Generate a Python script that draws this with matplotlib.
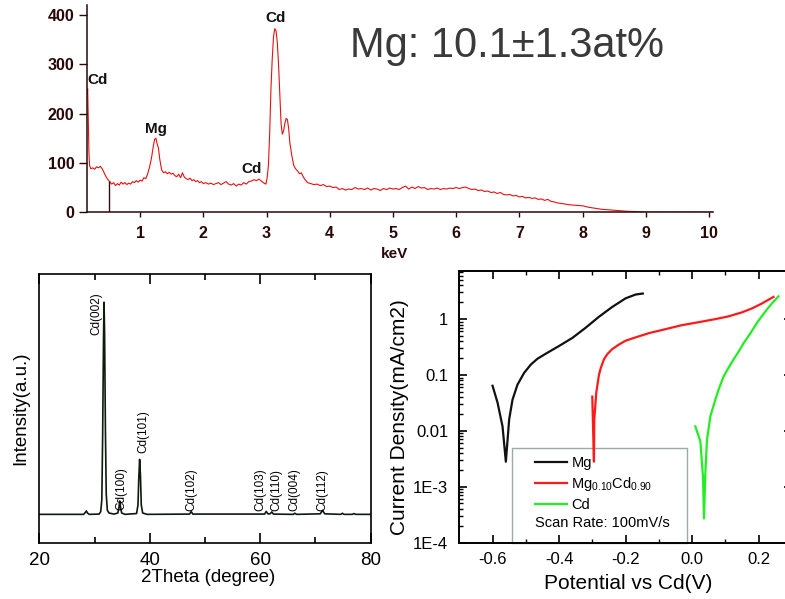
import matplotlib
matplotlib.use("Agg")
import matplotlib.pyplot as plt
from matplotlib.patches import Rectangle
from matplotlib.ticker import FixedLocator, FixedFormatter, LogLocator, NullFormatter
from matplotlib.transforms import Bbox, TransformedBbox

plt.rcParams['font.family'] = ['Liberation Sans', 'DejaVu Sans']
plt.rcParams['mathtext.fontset'] = 'custom'
plt.rcParams['mathtext.rm'] = 'Liberation Sans'

# --- EDS spectrum (top) ---
eds_kev = [0.16, 0.17, 0.18, 0.19, 0.20, 0.22, 0.25, 0.28, 0.31, 0.34, 0.37, 0.40, 0.43, 0.46, 0.49,
           0.52, 0.55, 0.58, 0.61, 0.64, 0.67, 0.70, 0.73, 0.76, 0.79, 0.82, 0.85, 0.88, 0.91, 0.94,
           0.97, 1.00, 1.03, 1.06, 1.09, 1.12, 1.15, 1.18, 1.21, 1.23, 1.25, 1.27, 1.29, 1.31, 1.34,
           1.37, 1.40, 1.43, 1.46, 1.49, 1.52, 1.55, 1.58, 1.61, 1.64, 1.67, 1.70, 1.73, 1.76, 1.79,
           1.82, 1.85, 1.88, 1.91, 1.94, 1.97, 2.00, 2.04, 2.08, 2.12, 2.16, 2.20, 2.24, 2.28, 2.32,
           2.36, 2.40, 2.44, 2.48, 2.52, 2.56, 2.60, 2.64, 2.68, 2.72, 2.76, 2.80, 2.84, 2.88, 2.92,
           2.96, 2.99, 3.01, 3.03, 3.05, 3.07, 3.09, 3.11, 3.13, 3.15, 3.17, 3.19, 3.21, 3.23, 3.25,
           3.27, 3.29, 3.31, 3.33, 3.35, 3.37, 3.40, 3.43, 3.46, 3.49, 3.52, 3.55, 3.58, 3.61, 3.65,
           3.70, 3.75, 3.80, 3.85, 3.90, 3.95, 4.00, 4.05, 4.10, 4.15, 4.20, 4.25, 4.30, 4.35, 4.40,
           4.45, 4.50, 4.55, 4.60, 4.65, 4.70, 4.75, 4.80, 4.85, 4.90, 4.95, 5.00, 5.05, 5.10, 5.15,
           5.20, 5.25, 5.30, 5.35, 5.40, 5.45, 5.50, 5.55, 5.60, 5.65, 5.70, 5.75, 5.80, 5.85, 5.90,
           5.95, 6.00, 6.05, 6.10, 6.15, 6.20, 6.25, 6.30, 6.35, 6.40, 6.45, 6.50, 6.55, 6.60, 6.65,
           6.70, 6.75, 6.80, 6.85, 6.90, 6.95, 7.00, 7.05, 7.10, 7.15, 7.20, 7.25, 7.30, 7.35, 7.40,
           7.45, 7.50, 7.55, 7.60, 7.65, 7.70, 7.80, 7.90, 8.00, 8.10, 8.20, 8.30, 8.40, 8.50, 8.60,
           8.70, 8.80, 8.90, 9.00, 10.05]
eds_counts = [240, 250, 180, 120, 95, 88, 90, 87, 92, 90, 93, 88, 80, 72, 66,
              62, 57, 60, 54, 58, 55, 61, 57, 60, 56, 59, 57, 62, 60, 64,
              61, 65, 63, 70, 68, 78, 92, 110, 135, 148, 150, 138, 130, 108, 86,
              80, 82, 78, 81, 77, 79, 74, 72, 77, 70, 80, 71, 68, 66, 69,
              64, 66, 62, 64, 60, 62, 58, 60, 57, 59, 56, 58, 60, 56, 59,
              62, 57, 55, 58, 53, 57, 55, 60, 57, 62, 63, 66, 64, 67, 63,
              59, 57, 70, 95, 160, 250, 310, 355, 372, 368, 345, 300, 240, 180, 158,
              165, 180, 190, 188, 170, 140, 115, 95, 88, 84, 78, 80, 72, 66, 60,
              58, 56, 57, 54, 56, 52, 53, 50, 51, 46, 48, 45, 47, 46, 50,
              47, 48, 46, 49, 45, 48, 47, 44, 48, 46, 49, 47, 48, 46, 50,
              53, 47, 51, 48, 52, 49, 50, 46, 48, 47, 49, 46, 48, 47, 49,
              48, 50, 48, 50, 51, 48, 46, 47, 44, 45, 42, 43, 40, 41, 38,
              40, 36, 35, 36, 33, 34, 31, 32, 29, 30, 28, 29, 26, 27, 24,
              26, 22, 21, 19, 18, 17, 15, 14, 13, 10, 8, 6, 5, 4, 3,
              2, 1.5, 1, 0, 0]
eds_marker_kev = [0.51]
eds_marker_height = [64]
eds_peak_names = ['Cd', 'Mg', 'Cd', 'Cd']
eds_peak_kev = [0.33, 1.245, 2.76, 3.14]
eds_peak_y = [268, 169, 88, 393]

# --- XRD pattern (bottom left) ---
xrd_2theta = [20, 28.0, 28.3, 28.5, 28.7, 29.0, 30.8, 31.1, 31.3, 31.45, 31.6, 31.7, 31.8, 31.95,
              32.1, 32.3, 32.6, 33.5, 34.2, 34.4, 34.55, 34.7, 34.9, 35.5, 37.6, 37.85, 38.0,
              38.15, 38.3, 38.45, 38.7, 39.5, 47.2, 47.5, 47.8, 60.8, 61.1, 61.4, 61.8, 62.1,
              62.4, 66.0, 66.3, 66.6, 70.9, 71.3, 71.7, 74.6, 74.9, 75.2, 76.7, 77.0, 77.3, 80]
xrd_intensity = [10.5, 10.5, 11.2, 11.8, 11.0, 10.5, 10.6, 11.5, 16, 40, 75, 89.6, 78, 42,
                 18, 12, 11, 10.6, 11, 13, 15.5, 13, 11, 10.5, 10.8, 14, 24,
                 31, 25, 14, 11, 10.5, 10.6, 11.5, 10.6, 10.6, 11.6, 10.7, 10.7, 11.4,
                 10.6, 10.5, 10.9, 10.5, 10.7, 12.0, 10.7, 10.5, 10.9, 10.5, 10.5, 10.8, 10.5, 10.5]
xrd_labels = ['Cd(002)', 'Cd(100)', 'Cd(101)', 'Cd(102)', 'Cd(103)', 'Cd(110)', 'Cd(004)', 'Cd(112)']
xrd_label_x = [30.35, 34.86, 38.8, 47.6, 60.0, 62.9, 66.2, 71.3]
xrd_label_y = [77.4, 12.1, 33.4, 11.9, 11.9, 11.9, 11.9, 11.9]

# --- Tafel curves (bottom right) ---
mg_v = [-0.600, -0.585, -0.570, -0.560, -0.550, -0.540, -0.525, -0.505, -0.485, -0.465,
        -0.44, -0.40, -0.36, -0.32, -0.28, -0.24, -0.20, -0.17, -0.148]
mg_i = [0.064, 0.032, 0.012, 0.0028, 0.016, 0.036, 0.067, 0.109, 0.153, 0.195,
        0.24, 0.33, 0.46, 0.70, 1.1, 1.65, 2.35, 2.75, 2.87]
mgcd_v = [-0.300, -0.295, -0.294, -0.288, -0.280, -0.275, -0.265, -0.255, -0.24, -0.22,
          -0.20, -0.17, -0.13, -0.08, -0.03, 0.02, 0.07, 0.11, 0.15, 0.18, 0.21, 0.245]
mgcd_i = [0.041, 0.0028, 0.016, 0.048, 0.10, 0.13, 0.19, 0.235, 0.29, 0.35,
          0.41, 0.47, 0.56, 0.66, 0.78, 0.88, 1.0, 1.12, 1.32, 1.55, 1.9, 2.5]
cd_v = [0.010, 0.025, 0.033, 0.036, 0.040, 0.045, 0.055, 0.070, 0.080, 0.095, 0.110,
        0.125, 0.140, 0.155, 0.175, 0.195, 0.210, 0.225, 0.240, 0.260]
cd_i = [0.012, 0.0065, 0.0015, 0.00027, 0.0017, 0.0069, 0.018, 0.036, 0.055, 0.094, 0.135,
        0.19, 0.26, 0.37, 0.55, 0.85, 1.13, 1.48, 1.9, 2.56]
tafel_ticks = [1e-4, 1e-3, 1e-2, 1e-1, 1]
tafel_tick_labels = ['1E-4', '1E-3', '0.01', '0.1', '1']

fig = plt.figure(figsize=(7.85, 5.99), dpi=100)

# EDS panel
ax1 = fig.add_axes([0.1104, 0.6457, 0.7975, 0.346])
dark = '#2a0808'
ax1.plot(eds_kev, eds_counts, color='#e8100f', lw=0.8)
ax1.vlines(eds_marker_kev, 0, eds_marker_height, color='#301010', lw=1.0)
ax1.set_xlim(0.154, 10.06)
ax1.set_ylim(0, 420)
ax1.spines['top'].set_visible(False)
ax1.spines['right'].set_visible(False)
for s in ['left', 'bottom']:
    ax1.spines[s].set_color(dark)
    ax1.spines[s].set_linewidth(1.1)
ax1.set_xticks(range(1, 11))
ax1.set_yticks([0, 100, 200, 300, 400])
ax1.tick_params(axis='x', direction='out', length=3.6, width=1, colors=dark, pad=6)
ax1.tick_params(axis='y', direction='out', length=5.8, width=1, colors=dark, pad=3)
for lab in ax1.get_xticklabels() + ax1.get_yticklabels():
    lab.set_fontweight('bold')
    lab.set_fontsize(11.5)
ax1.set_xlabel('keV', fontweight='bold', fontsize=11, color=dark)
ax1.xaxis.set_label_coords(0.4912, -0.17)
for name, kx, ky in zip(eds_peak_names, eds_peak_kev, eds_peak_y):
    ax1.text(kx, ky, name, ha='center', va='center', fontsize=11, fontweight='bold', color='#111111')
fig.text(0.4459, 0.9053, 'Mg: 10.1\u00b11.3at%', fontsize=30, color='#3a3a3a', va='baseline', ha='left')

# XRD panel
ax2 = fig.add_axes([0.0503, 0.0943, 0.4217, 0.4477])
ax2.plot(xrd_2theta, xrd_intensity, color='#0d1a0d', lw=1.2)
ax2.set_xlim(20, 80)
ax2.set_ylim(0, 100)
ax2.set_yticks([])
ax2.xaxis.set_major_locator(FixedLocator([20, 40, 60, 80]))
ax2.xaxis.set_minor_locator(FixedLocator([30, 50, 70]))
ax2.tick_params(axis='x', which='major', direction='in', length=7.2, width=1.2, top=True,
                labelsize=13.5, pad=7)
ax2.tick_params(axis='x', which='minor', direction='in', length=4.3, width=1.2, top=True)
for s in ax2.spines.values():
    s.set_linewidth(1.2)
for name, lx, ly in zip(xrd_labels, xrd_label_x, xrd_label_y):
    ax2.text(lx, ly, name, rotation=90, ha='center', va='bottom', fontsize=8.5)
ax2.set_xlabel('2Theta (degree)', fontsize=13.5)
ax2.xaxis.set_label_coords(0.508, -0.10)
ax2.set_ylabel('Intensity(a.u.)', fontsize=13.5)
ax2.yaxis.set_label_coords(-0.032, 0.5)

# Tafel panel
ax3 = fig.add_axes([0.5851, 0.0943, 0.4235, 0.4532])
ax3.plot(mg_v, mg_i, color='#111111', lw=1.6, label='Mg')
ax3.plot(mgcd_v, mgcd_i, color='#ff1a1a', lw=1.6, label='Mg$_{\\mathregular{0.10}}$Cd$_{\\mathregular{0.90}}$')
ax3.plot(cd_v, cd_i, color='#22ee22', lw=1.6, label='Cd')
ax3.set_yscale('log')
ax3.set_xlim(-0.7, 0.3)
ax3.set_ylim(1e-4, 7.25)
ax3.yaxis.set_major_locator(FixedLocator(tafel_ticks))
ax3.yaxis.set_major_formatter(FixedFormatter(tafel_tick_labels))
ax3.yaxis.set_minor_locator(LogLocator(base=10, subs=range(2, 10)))
ax3.yaxis.set_minor_formatter(NullFormatter())
ax3.xaxis.set_major_locator(FixedLocator([-0.6, -0.4, -0.2, 0.0, 0.2]))
ax3.xaxis.set_major_formatter(FixedFormatter(['-0.6', '-0.4', '-0.2', '0.0', '0.2']))
ax3.xaxis.set_minor_locator(FixedLocator([-0.5, -0.3, -0.1, 0.1]))
ax3.tick_params(axis='both', which='major', direction='in', length=5.8, width=1.2, labelsize=12)
ax3.tick_params(axis='y', which='major', pad=8, right=True)
ax3.tick_params(axis='x', which='major', pad=7, top=True)
ax3.tick_params(axis='both', which='minor', direction='in', length=3.2, width=1.0)
ax3.tick_params(axis='x', which='minor', top=True)
ax3.tick_params(axis='y', which='minor', right=False)
for s in ax3.spines.values():
    s.set_linewidth(1.4)
ax3.set_xlabel('Potential vs Cd(V)', fontsize=15)
ax3.xaxis.set_label_coords(0.508, -0.115)
ax3.set_ylabel('Current Density(mA/cm2)', fontsize=15)
ax3.yaxis.set_label_coords(-0.152, 0.462)
ax3.add_patch(Rectangle((0.1576, 0), 0.5264, 0.349, transform=ax3.transAxes,
                        fill=False, edgecolor='#9aaba8', lw=1.0, clip_on=False))
ax3.legend(loc='upper left', bbox_to_anchor=(0.2277, 0.318), frameon=False, fontsize=10.5,
           handlelength=2.2, handletextpad=0.3, labelspacing=0.35, borderpad=0, borderaxespad=0)
ax3.text(0.2277, 0.0707, 'Scan Rate: 100mV/s', transform=ax3.transAxes, fontsize=10.5, va='center')

# the reference panels are cropped where they meet
ax3.yaxis.label.set_clip_box(TransformedBbox(Bbox([[390 / 785, 0], [1, 1]]), fig.transFigure))
ax3.yaxis.label.set_clip_on(True)

fig.savefig('out.png', dpi=100)
